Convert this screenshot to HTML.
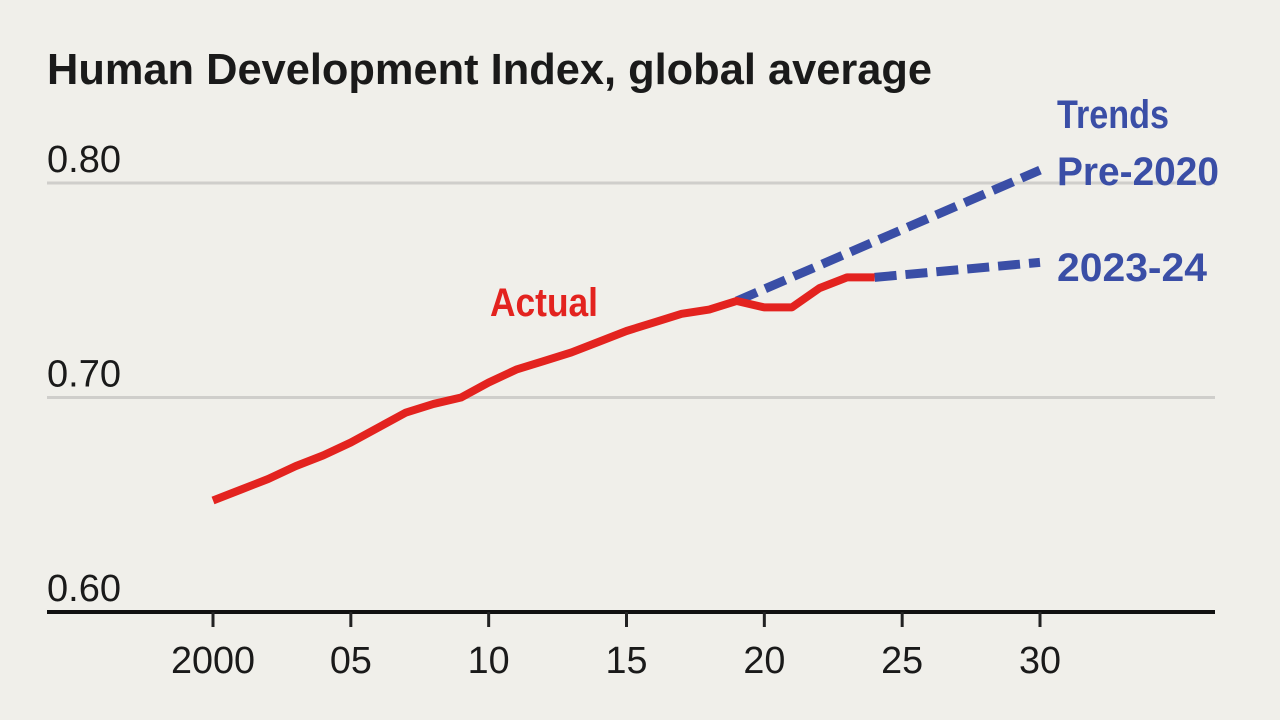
<!DOCTYPE html>
<html><head><meta charset="utf-8"><style>
html,body{margin:0;padding:0;background:#f0efea;}
svg{display:block;font-family:"Liberation Sans",sans-serif;}
</style></head><body>
<svg id="chart" width="1280" height="720" viewBox="0 0 1280 720">
<rect width="1280" height="720" fill="#f0efea"/>
<text x="47" y="84" font-size="44" font-weight="bold" fill="#1a1a1a" textLength="885" lengthAdjust="spacingAndGlyphs">Human Development Index, global average</text>
<g id="grid"></g><g id="axes"></g><g id="series"></g>
<text x="1057" y="128" font-size="40" font-weight="bold" fill="#3a4ea6" textLength="112" lengthAdjust="spacingAndGlyphs">Trends</text>
<text x="1057" y="185" font-size="40" font-weight="bold" fill="#3a4ea6" textLength="162" lengthAdjust="spacingAndGlyphs">Pre-2020</text>
<text x="1057" y="281" font-size="40" font-weight="bold" fill="#3a4ea6" textLength="150" lengthAdjust="spacingAndGlyphs">2023-24</text>
<text x="490" y="316" font-size="40" font-weight="bold" fill="#e3231f" textLength="108" lengthAdjust="spacingAndGlyphs">Actual</text>
</svg>
<script>
const years=[2000,2001,2002,2003,2004,2005,2006,2007,2008,2009,2010,2011,2012,2013,2014,2015,2016,2017,2018,2019,2020,2021,2022,2023,2024];
const actual=[0.652,0.657,0.662,0.668,0.673,0.679,0.686,0.693,0.697,0.700,0.707,0.713,0.717,0.721,0.726,0.731,0.735,0.739,0.741,0.745,0.742,0.742,0.751,0.756,0.756];
const trendPreYears=[2019,2030];
const trendPre=[0.745,0.806];
const trendRecentYears=[2024,2030];
const trendRecent=[0.756,0.763];
const yTicks=[0.60,0.70,0.80];
const yTickLabels=["0.60","0.70","0.80"];
const xTicks=[2000,2005,2010,2015,2020,2025,2030];
const xTickLabels=["2000","05","10","15","20","25","30"];

const NS="http://www.w3.org/2000/svg";
const X=y=>213+(y-2000)*(1040-213)/30;
const Y=v=>612-(v-0.60)*(612-183)/0.20;
function mk(tag,attrs,parent){const e=document.createElementNS(NS,tag);for(const k in attrs)e.setAttribute(k,attrs[k]);document.getElementById(parent).appendChild(e);return e;}

yTicks.forEach((t,i)=>{
  if(t>0.6){const l=mk('line',{x1:47,x2:1215,y1:Y(t),y2:Y(t),stroke:'#cfcecb','stroke-width':3},'grid');
  
  }
  const tx=mk('text',{x:47,y:Y(t)-11,'font-size':38,fill:'#1a1a1a',textLength:74,lengthAdjust:'spacingAndGlyphs'},'axes');
  tx.textContent=yTickLabels[i];
  
  
});
const base=mk('line',{x1:47,x2:1215,y1:612,y2:612,stroke:'#111','stroke-width':4},'axes');


xTicks.forEach((t,i)=>{
  const tk=mk('line',{x1:X(t),x2:X(t),y1:612,y2:627,stroke:'#222','stroke-width':3},'axes');
  
  
  const lab=xTickLabels[i];
  const tx=mk('text',{x:X(t),y:673,'font-size':38,fill:'#1a1a1a','text-anchor':'middle',textLength:lab.length*21,lengthAdjust:'spacingAndGlyphs'},'axes');
  tx.textContent=lab;
  
  
});
function pts(xs,vs){return xs.map((x,i)=>X(x)+','+Y(vs[i])).join(' ');}
const pre=mk('polyline',{points:pts(trendPreYears,trendPre),fill:'none',stroke:'#3a4ea6','stroke-width':9,'stroke-dasharray':'22 9'},'series');


const rec=mk('polyline',{points:pts(trendRecentYears,trendRecent),fill:'none',stroke:'#3a4ea6','stroke-width':9,'stroke-dasharray':'22 9'},'series');


const act=mk('polyline',{points:pts(years,actual),fill:'none',stroke:'#e3231f','stroke-width':8,'stroke-linejoin':'round'},'series');


</script>
</body></html>
